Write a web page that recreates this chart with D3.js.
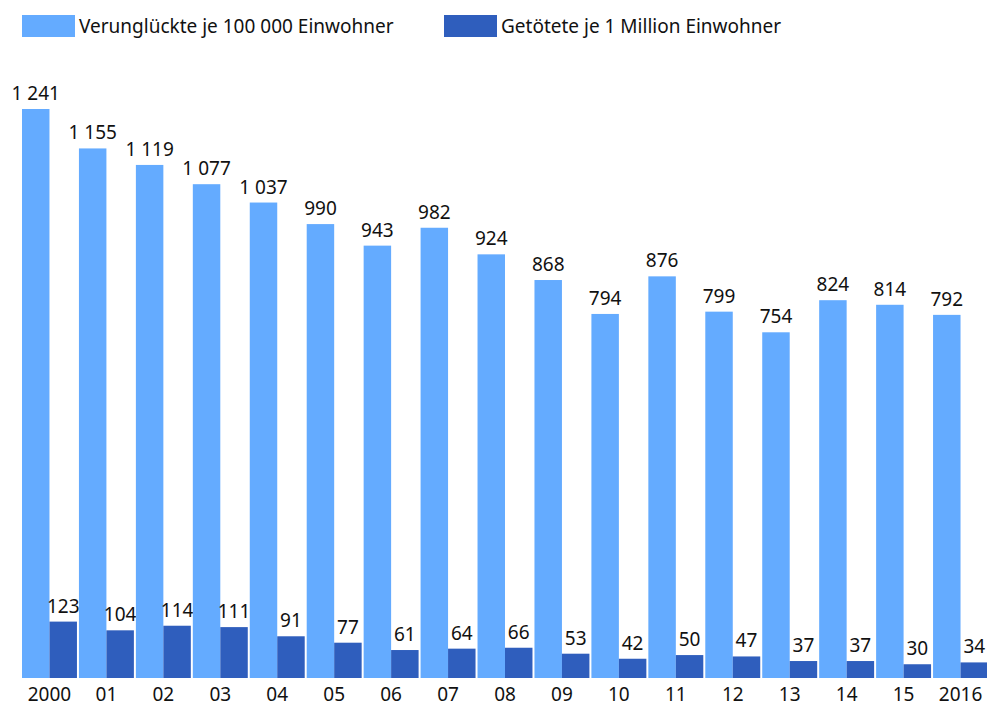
<!DOCTYPE html>
<html><head><meta charset="utf-8">
<script src="https://cdn.jsdelivr.net/npm/d3@7"></script>
<style>body{margin:0;background:#fff}svg{display:block}text{font-family:"Noto Sans",sans-serif;fill:#111}</style>
</head><body>
<script>
const years = ["2000","01","02","03","04","05","06","07","08","09","10","11","12","13","14","15","2016"];
const verunglueckte = [1241,1155,1119,1077,1037,990,943,982,924,868,794,876,799,754,824,814,792];
const getoetete = [123,104,114,111,91,77,61,64,66,53,42,50,47,37,37,30,34];
const seriesNames = ["Verunglückte je 100 000 Einwohner","Getötete je 1 Million Einwohner"];
const colors = ["#64abff","#2f5ebd"];

const W=987,H=706;
const svg=d3.select("body").append("svg").attr("width",W).attr("height",H);
const x0=d3.scaleBand().domain(years).range([22,988]).paddingInner(0.035).paddingOuter(0);
const x1=d3.scaleBand().domain([0,1]).range([0,x0.bandwidth()]);
const y=d3.scaleLinear().domain([0,1241]).range([678,109]);
const fmt=v=>v>=1000?d3.format(",")(v).replace(/,/g," "):String(v);

const data=years.map((yr,i)=>({yr,vals:[verunglueckte[i],getoetete[i]]}));
const g=svg.append("g").selectAll("g").data(data).join("g").attr("transform",d=>`translate(${x0(d.yr)},0)`);
g.selectAll("rect").data(d=>d.vals.map((v,k)=>({v,k}))).join("rect")
  .attr("x",d=>x1(d.k)).attr("width",x1.bandwidth())
  .attr("y",d=>y(d.v)).attr("height",d=>y(0)-y(d.v)).attr("fill",d=>colors[d.k]);
g.selectAll("text.v").data(d=>d.vals.map((v,k)=>({v,k}))).join("text").attr("class","v")
  .attr("x",d=>x1(d.k)+x1.bandwidth()/2).attr("y",d=>y(d.v)-9)
  .attr("text-anchor","middle").attr("font-size",19).text(d=>fmt(d.v));

const xa=svg.append("g").attr("transform","translate(0,678)").call(d3.axisBottom(x0).tickSize(0));
xa.select(".domain").remove();
xa.selectAll("text").attr("y",23).attr("dy",0).attr("font-size",19).attr("fill","#111").style("font-family","Noto Sans");

const legX=[22,444];
const lg=svg.append("g").selectAll("g").data(seriesNames).join("g").attr("transform",(d,i)=>`translate(${legX[i]},15)`);
lg.append("rect").attr("width",53).attr("height",22).attr("fill",(d,i)=>colors[i]);
lg.append("text").attr("x",57).attr("y",18).attr("font-size",19).text(d=>d);
</script>
</body></html>
